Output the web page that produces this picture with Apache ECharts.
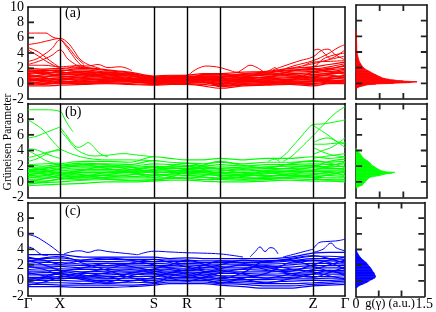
<!DOCTYPE html>
<html><head><meta charset="utf-8">
<script src="https://cdn.jsdelivr.net/npm/echarts@6/dist/echarts.min.js"></script>
<style>html,body{margin:0;padding:0;background:#fff}#c{width:436px;height:312px}</style>
</head><body><div id="c"></div>
<script>
// k-path positions of the sample points and high-symmetry points
const kPoints = [0,16,32,55,79,102,126,142,159,175,192,215,238,262,285,301,317];
const kTicks = [0,32,126,159,192,285,317];
const kLabels = ['Γ','X','S','R','T','Z','Γ'];
const yInnerTicks = [0,2,4,6,8];
const dosInnerTicks = [0.5,1.0];

// ---- panel (a) red ----
const bandA = [
 [-0.3,-0.3,-0.2,-0.1,0.0,-0.1,-0.2,-0.1,-0.1,-0.3,-0.6,-0.3,-0.2,-0.1,-0.3,0.0,0.0],
 [0.0,-0.1,0.1,0.1,0.1,0.0,-0.1,0.0,0.0,-0.1,-0.3,-0.1,0.0,0.1,0.0,0.2,0.1],
 [0.2,0.1,0.3,0.3,0.2,0.2,0.0,0.1,0.1,0.1,-0.1,0.1,0.1,0.2,0.2,0.3,0.4],
 [0.4,0.4,0.2,0.5,0.4,0.3,0.1,0.2,0.2,0.2,0.1,0.3,0.3,0.4,0.3,0.5,0.3],
 [0.6,0.5,0.5,0.6,0.5,0.4,0.2,0.3,0.3,0.4,0.2,0.4,0.5,0.6,0.5,0.7,0.6],
 [0.8,0.7,0.6,0.8,0.7,0.6,0.3,0.4,0.4,0.5,0.4,0.6,0.6,0.8,0.8,0.9,1.0],
 [1.0,0.9,0.9,1.0,0.8,0.7,0.4,0.5,0.5,0.6,0.5,0.7,0.8,0.9,1.0,1.1,0.8],
 [1.2,1.0,1.1,1.2,1.0,0.8,0.5,0.6,0.6,0.8,0.7,0.8,0.9,1.1,1.2,1.3,1.4],
 [1.4,1.3,1.2,1.3,1.1,1.0,0.6,0.7,0.7,0.9,0.8,1.0,1.1,1.3,1.4,1.6,1.2],
 [1.6,1.5,1.4,1.5,1.3,1.1,0.7,0.8,0.8,1.0,0.9,1.1,1.2,1.5,1.6,1.8,2.0],
 [1.8,1.7,1.7,1.8,1.5,1.3,0.8,0.9,0.9,1.1,1.1,1.2,1.4,1.7,1.8,2.0,2.3],
 [2.0,1.9,2.0,2.1,1.8,1.5,1.0,1.1,1.1,1.3,1.3,1.5,1.6,2.0,2.2,2.5,2.8],
 [0.1,0.3,0.6,0.9,1.2,1.0,0.7,0.5,0.3,0.2,0.0,0.2,0.4,0.6,0.9,1.2,1.5],
 [1.1,0.8,0.4,0.2,0.3,0.5,0.8,0.9,1.0,0.7,0.3,0.5,0.9,1.2,0.7,0.4,0.2],
 [1.7,1.4,1.0,0.7,0.6,0.9,0.5,0.3,0.2,0.4,0.6,0.9,1.3,1.0,0.6,0.8,1.1],
 [0.5,0.8,1.3,1.6,1.4,1.2,0.9,0.8,0.6,1.2,1.2,1.0,0.7,0.5,1.5,1.9,2.4],
 [0.9,1.2,1.6,2.0,1.7,1.4,0.8,1.0,1.0,0.9,0.9,1.3,1.5,1.8,1.9,2.2,2.6],
 [1.3,1.6,1.8,1.4,0.9,0.6,0.4,0.4,0.5,0.3,-0.2,0.0,0.2,0.3,0.4,0.6,0.8],
 [-0.1,0.0,0.0,0.4,0.6,0.5,0.3,0.2,0.4,0.6,0.7,0.5,0.3,0.5,1.1,1.4,1.7],
 [0.3,0.6,0.8,1.1,0.8,0.3,0.1,0.3,0.8,0.6,-0.4,-0.2,-0.1,0.0,-0.1,0.1,0.5],
 [0.7,0.4,0.1,0.0,0.2,0.7,0.6,0.7,0.7,1.0,1.0,0.8,0.2,0.1,0.3,0.6,0.9],
 [1.5,1.8,1.5,1.2,1.5,1.2,0.9,0.8,0.9,0.8,0.5,0.3,0.7,1.6,2.0,1.6,1.9]
];
const featA = [
 [[0,6.6],[10,6.6],[18,6.6],[22,6.3],[26,6.0],[32,5.8],[38,4.9],[44,3.8],[50,2.8],[56,2.2],[66,1.9]],
 [[0,5.1],[10,5.3],[20,5.6],[32,5.9],[40,5.3],[46,4.3],[52,3.2],[60,2.5],[72,2.0]],
 [[0,4.7],[8,4.3],[16,3.6],[24,2.8],[32,2.1]],
 [[0,4.4],[8,3.8],[16,3.1],[24,2.5],[32,2.0]],
 [[0,2.9],[8,3.2],[16,3.8],[24,4.6],[32,5.7],[40,4.8],[48,3.5],[56,2.5]],
 [[0,2.5],[8,2.8],[16,3.2],[24,3.7],[32,4.4],[40,3.2],[50,2.3]],
 [[0,2.4],[16,2.4],[32,2.2],[45,2.3],[60,2.1]],
 [[40,2.0],[50,2.4],[60,2.3],[70,2.5],[80,2.1],[92,2.2],[104,1.7]],
 [[131,0.9],[145,1.0],[159,1.1],[166,1.7],[172,2.1],[178,2.3],[185,2.25],[192,2.1],[200,1.8],[209,1.5],[215,1.9],[222,2.4],[229,2.1],[237,1.4]],
 [[238,1.5],[244,1.9],[247,2.1],[250,1.7],[254,1.5]],
 [[245,1.8],[258,2.4],[272,3.0],[285,3.5],[293,4.3],[300,4.5],[307,3.8],[317,3.1]],
 [[250,1.6],[265,2.3],[285,3.0],[300,3.9],[310,4.7],[317,5.1]],
 [[262,2.0],[285,2.6],[300,3.1],[317,3.6]],
 [[285,4.3],[290,4.5],[296,4.0],[302,3.3],[308,3.6],[317,4.4]],
 [[270,2.1],[285,2.2],[295,3.2],[305,3.7],[317,4.0]],
 [[275,2.3],[285,2.8],[300,2.9],[317,3.0]]
];
const dosA = [[-0.7,0],[-0.5,0.05],[-0.4,0.1],[-0.3,0.16],[-0.2,0.22],[-0.1,0.42],[0.0,0.8],[0.1,1.15],[0.2,1.29],[0.3,1.0],[0.4,0.82],[0.5,0.7],[0.6,0.62],[0.7,0.55],[0.8,0.52],[0.9,0.48],[1.0,0.45],[1.1,0.42],[1.2,0.38],[1.4,0.32],[1.6,0.26],[1.8,0.2],[2.0,0.16],[2.2,0.13],[2.5,0.1],[2.8,0.07],[3.2,0.05],[3.6,0.035],[4.2,0.02],[5.0,0.015],[6.0,0.01],[6.6,0.01],[6.8,0]];

// ---- panel (b) green ----
const bandB = [
 [-0.5,-0.4,-0.3,-0.2,0.0,0.0,0.1,0.2,0.2,0.1,0.0,0.0,0.1,0.2,0.1,0.1,0.0],
 [-0.2,-0.1,0.0,0.2,0.3,0.2,0.3,0.4,0.4,0.3,0.3,0.2,0.3,0.4,0.3,0.3,0.2],
 [0.1,0.1,0.3,0.5,0.5,0.5,0.5,0.5,0.6,0.6,0.5,0.5,0.5,0.6,0.6,0.5,0.5],
 [0.3,0.4,0.6,0.8,0.8,0.7,0.8,0.9,0.8,0.9,0.8,0.8,0.8,0.8,0.9,0.8,0.7],
 [0.6,0.6,0.8,1.0,1.0,1.0,0.9,1.0,1.1,1.0,1.0,1.0,1.1,1.1,1.1,1.0,1.0],
 [0.8,0.9,1.0,1.2,1.2,1.2,1.3,1.2,1.3,1.3,1.2,1.2,1.3,1.3,1.3,1.3,1.2],
 [1.0,1.1,1.2,1.4,1.4,1.3,1.5,1.5,1.4,1.5,1.5,1.4,1.5,1.5,1.5,1.5,1.5],
 [1.2,1.3,1.4,1.6,1.6,1.5,1.8,1.7,1.7,1.7,1.7,1.6,1.7,1.7,1.8,1.7,1.7],
 [1.4,1.4,1.6,1.8,1.8,1.8,2.0,1.9,1.9,1.8,1.9,1.8,1.9,2.0,2.0,1.9,2.0],
 [1.6,1.6,1.8,2.0,2.0,2.0,2.3,2.2,2.1,2.0,2.2,2.0,2.2,2.2,2.3,2.2,2.3],
 [1.8,1.8,2.0,2.2,2.3,2.2,2.7,2.5,2.4,2.3,2.5,2.3,2.5,2.5,2.6,2.5,2.6],
 [2.2,2.0,2.3,2.6,2.6,2.5,3.2,3.0,2.8,2.8,3.0,2.8,3.0,3.0,3.2,3.0,3.2],
 [0.0,0.4,0.9,1.5,2.0,1.6,1.1,0.7,0.4,0.8,1.3,1.7,1.2,0.8,0.6,0.9,1.4],
 [1.9,1.5,1.0,0.6,0.9,1.3,1.6,2.0,2.4,2.0,1.6,1.1,0.7,1.0,1.5,2.0,2.5],
 [0.9,1.2,1.7,2.2,1.7,1.2,0.6,1.0,1.5,2.1,2.6,2.1,1.8,2.3,2.7,2.4,1.8],
 [1.5,1.0,0.5,0.3,0.6,0.9,1.4,1.8,2.0,1.6,0.9,0.5,0.4,0.6,0.9,1.2,0.8],
 [-0.3,0.0,0.4,0.7,1.2,1.5,1.9,1.4,1.0,0.6,0.4,0.7,1.0,1.4,1.9,2.6,2.9],
 [0.5,0.8,1.2,0.9,0.4,0.2,0.2,0.6,1.2,1.2,0.7,0.3,0.6,1.0,0.5,0.2,0.3],
 [1.3,1.7,2.1,2.4,2.2,1.9,1.2,1.3,1.6,1.4,1.1,0.9,1.4,1.8,2.1,1.8,1.6]
];
const featB = [
 [[0,9.2],[16,9.2],[32,9.0],[36,8.2],[40,7.3],[45,6.4]],
 [[0,7.9],[8,7.3],[16,6.5],[24,5.3],[32,4.2]],
 [[0,5.6],[8,5.8],[16,6.2],[24,6.6],[32,7.0]],
 [[0,4.2],[8,4.1],[16,3.7],[24,3.3],[32,3.0]],
 [[0,2.6],[8,2.9],[16,3.4],[24,3.9],[32,4.2]],
 [[0,3.1],[10,3.4],[20,3.8],[32,4.0]],
 [[0,4.0],[10,3.3],[20,2.6],[32,2.2]],
 [[0,2.2],[16,2.3],[32,2.4]],
 [[32,7.0],[38,6.0],[44,5.0],[50,4.4],[56,4.7],[60,5.0],[66,4.4],[72,3.6],[80,3.2]],
 [[32,6.6],[40,5.4],[48,4.2],[56,3.6],[66,3.3],[80,3.4],[95,3.6],[110,3.4],[126,3.2]],
 [[32,4.2],[45,3.5],[60,3.0],[80,2.8],[100,2.8],[126,2.7]],
 [[240,2.6],[247,2.9],[252,2.5]],
 [[250,2.8],[258,3.6],[265,4.6],[272,5.6],[278,6.5],[285,7.3],[295,7.4],[305,7.6],[317,7.9]],
 [[255,2.6],[263,3.2],[270,4.0],[278,5.0],[285,5.9],[295,7.2],[305,8.5],[312,9.2],[317,9.6]],
 [[285,5.0],[292,5.4],[300,5.6],[308,5.2],[317,4.8]],
 [[285,7.2],[295,6.4],[305,5.5],[317,4.4]],
 [[285,4.8],[295,4.8],[305,4.9],[317,5.0]],
 [[285,3.5],[295,4.0],[305,4.5],[317,5.6]],
 [[285,4.4],[295,3.8],[305,3.4],[317,3.2]],
 [[285,3.0],[300,3.3],[317,3.6]]
];
const dosB = [[-0.8,0],[-0.6,0.06],[-0.4,0.14],[-0.2,0.16],[0.0,0.2],[0.2,0.22],[0.4,0.26],[0.6,0.3],[0.8,0.5],[1.0,0.62],[1.1,0.75],[1.2,0.82],[1.3,0.62],[1.5,0.5],[1.7,0.45],[1.9,0.4],[2.1,0.34],[2.4,0.3],[2.7,0.24],[3.0,0.16],[3.3,0.12],[3.6,0.09],[3.9,0.04],[4.1,0.02],[4.3,0]];

// ---- panel (c) blue ----
const bandC = [
 [-0.8,-0.8,-0.8,-0.9,-0.9,-0.8,-0.6,-0.4,-0.4,-0.4,-0.6,-0.8,-1.0,-1.0,-0.7,-0.6,-0.5],
 [-0.5,-0.5,-0.6,-0.6,-0.6,-0.6,-0.4,-0.2,-0.2,-0.2,-0.4,-0.5,-0.7,-0.7,-0.5,-0.4,-0.3],
 [-0.3,-0.3,-0.3,-0.4,-0.3,-0.3,-0.2,0.0,0.0,0.0,-0.2,-0.3,-0.4,-0.4,-0.3,-0.2,-0.1],
 [0.0,0.0,0.0,-0.1,0.0,0.0,0.0,0.2,0.2,0.2,0.0,-0.1,-0.2,-0.1,0.0,0.0,0.1],
 [0.2,0.2,0.3,0.2,0.2,0.3,0.2,0.4,0.4,0.4,0.2,0.1,0.1,0.2,0.2,0.3,0.3],
 [0.4,0.4,0.5,0.4,0.5,0.5,0.5,0.6,0.6,0.6,0.4,0.4,0.3,0.4,0.5,0.5,0.6],
 [0.7,0.7,0.8,0.6,0.7,0.8,0.7,0.8,0.8,0.8,0.6,0.6,0.6,0.6,0.8,0.8,0.8],
 [0.9,1.0,1.0,0.9,0.9,1.0,0.9,1.0,1.1,1.0,0.9,0.9,0.8,0.9,1.0,1.1,1.1],
 [1.2,1.2,1.3,1.1,1.2,1.2,1.2,1.2,1.3,1.2,1.1,1.1,1.1,1.2,1.3,1.3,1.3],
 [1.4,1.5,1.5,1.4,1.4,1.5,1.4,1.5,1.5,1.4,1.3,1.4,1.3,1.4,1.6,1.6,1.6],
 [1.7,1.7,1.8,1.6,1.7,1.7,1.7,1.7,1.8,1.6,1.6,1.6,1.6,1.7,1.9,1.9,1.9],
 [2.0,2.0,2.0,1.9,1.9,2.0,1.9,1.9,2.0,1.9,1.8,1.9,1.8,2.0,2.2,2.2,2.1],
 [2.2,2.3,2.3,2.1,2.2,2.2,2.2,2.1,2.2,2.1,2.1,2.1,2.1,2.2,2.5,2.5,2.4],
 [2.5,2.5,2.6,2.4,2.4,2.5,2.4,2.4,2.4,2.3,2.3,2.3,2.3,2.5,2.8,2.8,2.7],
 [2.8,2.8,2.9,2.6,2.7,2.7,2.7,2.6,2.6,2.5,2.5,2.5,2.5,2.7,3.1,3.1,3.0],
 [3.3,3.3,3.3,3.0,3.0,3.0,3.0,2.8,2.9,2.8,2.8,2.8,2.8,3.0,3.5,3.6,3.6],
 [0.1,0.5,1.1,1.6,2.2,1.8,1.2,0.8,0.5,1.0,1.5,2.0,1.4,0.9,0.4,1.0,1.7],
 [2.6,2.0,1.3,0.7,0.3,0.9,1.5,2.0,2.6,2.1,1.4,0.8,0.3,0.8,1.4,2.0,2.6],
 [-0.6,-0.2,0.4,1.0,1.5,2.2,2.7,2.3,1.7,1.2,0.6,0.2,-0.3,0.2,0.8,1.3,0.6],
 [1.8,1.4,0.7,0.1,-0.4,-0.1,0.4,1.0,1.4,1.9,2.5,2.2,1.7,1.2,2.0,2.6,3.0],
 [3.0,2.6,2.1,2.6,2.9,2.6,2.0,1.6,1.3,1.6,2.0,2.6,2.4,2.8,3.2,2.8,2.2],
 [1.0,0.6,0.2,0.5,1.0,1.4,0.9,0.3,-0.1,0.4,1.0,1.5,1.9,1.5,1.1,0.6,0.2],
 [-0.2,0.3,0.9,0.3,-0.2,0.6,1.1,1.4,0.8,0.2,-0.3,0.3,0.9,2.3,2.6,2.3,1.4],
 [2.4,2.9,3.1,2.2,1.3,0.4,-0.3,0.5,1.0,0.6,0.2,1.0,2.5,2.6,1.8,1.2,0.9]
];
const featC = [
 [[0,5.9],[8,5.6],[16,5.0],[24,4.3],[32,3.5]],
 [[0,4.3],[5,4.1],[10,3.6],[14,3.3],[20,3.2]],
 [[110,3.3],[126,3.75],[142,3.65],[159,3.55],[175,3.5],[192,3.4],[205,3.2],[215,3.0]],
 [[36,3.4],[44,3.7],[52,3.8],[60,3.6],[70,3.9],[80,3.7],[95,3.5],[110,3.3]],
 [[222,3.0],[228,3.8],[232,4.3],[237,3.7],[242,4.2],[246,4.1],[250,3.4]],
 [[285,4.0],[292,4.9],[300,5.0],[310,5.1],[317,5.3]],
 [[285,3.6],[295,4.0],[303,4.8],[308,4.2],[317,3.8]],
 [[255,3.0],[270,3.5],[285,4.0]]
];
const dosC = [[-0.9,0],[-0.8,0.03],[-0.6,0.08],[-0.4,0.16],[-0.2,0.24],[0.0,0.29],[0.2,0.36],[0.4,0.42],[0.6,0.43],[0.8,0.41],[1.0,0.4],[1.2,0.37],[1.4,0.35],[1.6,0.33],[1.8,0.3],[2.0,0.27],[2.3,0.23],[2.6,0.17],[2.9,0.11],[3.2,0.07],[3.5,0.04],[3.8,0.01],[4.0,0]];

const panels = [
 {band: bandA, feat: featA, dos: dosA, color: '#ff0000', tag: '(a)'},
 {band: bandB, feat: featB, dos: dosB, color: '#00ff00', tag: '(b)'},
 {band: bandC, feat: featC, dos: dosC, color: '#0000ff', tag: '(c)'}
];

const FONT = '"Liberation Serif","Times New Roman",serif';
const tops = [5, 103.5, 202.5];
const H = 94;
// tick lengths expressed in axis units (about 6 px)
const TICK_K = 6, TICK_G = 0.13, TICK_Y = 0.78;

const noTick = () => ({show: false});
const frame = () => ({show: true, onZero: false, lineStyle: {color: '#111', width: 1.6}});
const grid = [], xAxis = [], yAxis = [], series = [], graphic = [];
panels.forEach((p, i) => grid.push({left: 28, width: 317, top: tops[i], height: H}));
panels.forEach((p, i) => grid.push({left: 356, width: 71, top: tops[i], height: H}));

// x axes: main bottom 0..2, main top 3..5, dos bottom 6..8, dos top 9..11
panels.forEach((p, i) => {
  xAxis.push({gridIndex: i, type: 'value', min: 0, max: 317, position: 'bottom', axisLine: frame(), axisTick: noTick(), splitLine: {show: false},
    axisLabel: i === 2 ? {customValues: kTicks, formatter: v => kLabels[kTicks.indexOf(v)], fontFamily: FONT, fontSize: 15, color: '#000', margin: 1} : {show: false}});
});
panels.forEach((p, i) => {
  xAxis.push({gridIndex: i, type: 'value', min: 0, max: 317, position: 'top', axisLine: frame(), axisTick: noTick(), splitLine: {show: false}, axisLabel: {show: false}});
});
panels.forEach((p, i) => {
  xAxis.push({gridIndex: 3 + i, type: 'value', min: 0, max: 1.5, interval: 0.5, position: 'bottom', axisLine: frame(), splitLine: {show: false},
    axisTick: noTick(),
    axisLabel: i === 2 ? {customValues: [0, 1.5], showMinLabel: true, showMaxLabel: true, formatter: v => String(v), fontFamily: FONT, fontSize: 14, color: '#000', margin: 1} : {show: false},
    name: i === 2 ? 'g(γ) (a.u.)' : '', nameLocation: 'middle', nameGap: 1, nameMoveOverlap: false,
    nameTextStyle: {fontFamily: FONT, fontSize: 12.5, color: '#000', verticalAlign: 'top'}});
});
panels.forEach((p, i) => {
  xAxis.push({gridIndex: 3 + i, type: 'value', position: 'top', min: 0, max: 1.5, interval: 0.5, axisLine: frame(), splitLine: {show: false},
    axisTick: noTick(), axisLabel: {show: false}});
});
// y axes: main left 0..2, main right 3..5, dos left 6..8, dos right 9..11
panels.forEach((p, i) => {
  yAxis.push({gridIndex: i, type: 'value', min: -2, max: 10, interval: 2, position: 'left', axisLine: frame(), splitLine: {show: false},
    axisTick: noTick(),
    axisLabel: {showMaxLabel: i === 0, fontFamily: FONT, fontSize: 14, color: '#000', margin: 4}});
});
panels.forEach((p, i) => {
  yAxis.push({gridIndex: i, type: 'value', min: -2, max: 10, interval: 2, position: 'right', axisLine: frame(), splitLine: {show: false},
    axisTick: noTick(), axisLabel: {show: false}});
});
panels.forEach((p, i) => {
  yAxis.push({gridIndex: 3 + i, type: 'value', position: 'left', min: -2, max: 10, interval: 2, axisLine: frame(), axisLabel: {show: false}, splitLine: {show: false},
    axisTick: noTick()});
});
panels.forEach((p, i) => {
  yAxis.push({gridIndex: 3 + i, type: 'value', position: 'right', min: -2, max: 10, interval: 2, axisLine: frame(), axisLabel: {show: false}, splitLine: {show: false},
    axisTick: noTick()});
});

function tickSeries(xi, yi, seg) {
  return {type: 'line', xAxisIndex: xi, yAxisIndex: yi, data: seg, symbol: 'none', silent: true, z: 12,
    clip: false, lineStyle: {color: '#222', width: 1.8}};
}

panels.forEach((p, i) => {
  p.band.forEach(vals => {
    series.push({type: 'line', xAxisIndex: i, yAxisIndex: i, data: kPoints.map((k, j) => [k, vals[j]]),
      symbol: 'none', smooth: 0.35, silent: true, lineStyle: {color: p.color, width: 1.2}});
  });
  p.feat.forEach(pts => {
    series.push({type: 'line', xAxisIndex: i, yAxisIndex: i, data: pts,
      symbol: 'none', smooth: 0.4, silent: true, lineStyle: {color: p.color, width: 1}});
  });
  // high-symmetry vertical lines
  series.push({type: 'line', xAxisIndex: i, yAxisIndex: i, data: [], z: 10, silent: true,
    markLine: {symbol: ['none', 'none'], silent: true, animation: false, label: {show: false},
      lineStyle: {color: '#000', width: 1.4, type: 'solid'}, data: kTicks.slice(1, -1).map(v => ({xAxis: v}))}});
  // inward y ticks of the dispersion panel
  yInnerTicks.forEach(v => series.push(tickSeries(i, i, [[0, v], [TICK_K, v]])));
  // DOS: filled strip between consecutive (gamma, g) samples and the g = 0 axis
  const segs = [];
  for (let j = 0; j < p.dos.length - 1; j++) segs.push([p.dos[j][0], p.dos[j][1], p.dos[j + 1][0], p.dos[j + 1][1]]);
  series.push({type: 'custom', xAxisIndex: 6 + i, yAxisIndex: 6 + i, data: segs, silent: true,
    encode: {x: [1, 3], y: [0, 2]},
    renderItem: (params, api) => {
      const g0 = api.value(0), v0 = api.value(1), g1 = api.value(2), v1 = api.value(3);
      const pts = [api.coord([0, g0]), api.coord([v0, g0]), api.coord([v1, g1]), api.coord([0, g1])];
      return {type: 'polygon', shape: {points: pts}, style: {fill: p.color, stroke: p.color, lineWidth: 0.6}};
    }});
  // inward ticks on all four sides of the DOS panel
  yInnerTicks.forEach(v => {
    series.push(tickSeries(6 + i, 6 + i, [[0, v], [TICK_G, v]]));
    series.push(tickSeries(6 + i, 6 + i, [[1.5 - TICK_G, v], [1.5, v]]));
  });
  dosInnerTicks.forEach(g => {
    series.push(tickSeries(6 + i, 6 + i, [[g, -2], [g, -2 + TICK_Y]]));
    series.push(tickSeries(6 + i, 6 + i, [[g, 10 - TICK_Y], [g, 10]]));
  });
  graphic.push({type: 'text', x: 65, y: tops[i] + 1.5, style: {text: p.tag, font: '14px ' + FONT, fill: '#000'}});
});
graphic.push({type: 'text', x: 8, y: 142, rotation: Math.PI / 2,
  style: {text: 'Grüneisen Parameter', font: '11.5px ' + FONT, fill: '#000', align: 'center', verticalAlign: 'middle', textAlign: 'center', textVerticalAlign: 'middle'}});

const chart = echarts.init(document.getElementById('c'), null, {renderer: 'canvas'});
chart.setOption({animation: false, backgroundColor: '#fff', grid, xAxis, yAxis, series, graphic});
</script>
</body></html>
